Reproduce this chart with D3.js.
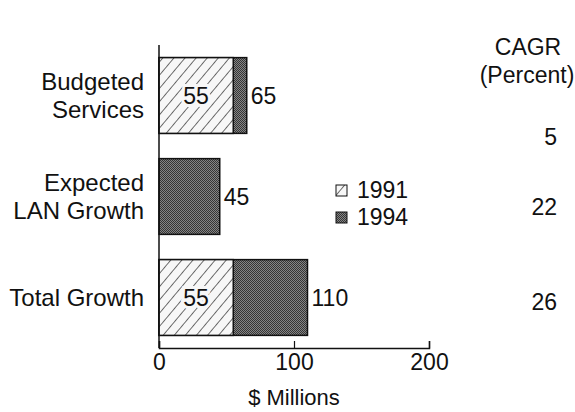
<!DOCTYPE html>
<html>
<head>
<meta charset="utf-8">
<script src="https://cdn.jsdelivr.net/npm/d3@7"></script>
<style>
  html, body { margin: 0; padding: 0; background: #fff; }
  svg { display: block; font-family: "Liberation Sans", Arial, Helvetica, sans-serif; }
</style>
</head>
<body>
<svg id="chart" width="575" height="412"></svg>
<script>
// Spending categories (label lines) and values in $ millions
const categories = ["Budgeted Services", "Expected LAN Growth", "Total Growth"];
const categoryLines = [["Budgeted", "Services"], ["Expected", "LAN Growth"], ["Total Growth"]];
const base1991 = [55, 0, 55];
const total1994 = [65, 45, 110];
const cagr = [5, 22, 26];
const xTicks = [0, 100, 200];
const legendYears = ["1991", "1994"];

const svg = d3.select("#chart");
const defs = svg.append("defs");

// Diagonal hatch for the 1991 share
const hatch = defs.append("pattern")
  .attr("id", "hatch").attr("patternUnits", "userSpaceOnUse")
  .attr("width", 8.5).attr("height", 8.5)
  .attr("patternTransform", "rotate(40)");
hatch.append("rect").attr("width", 8.5).attr("height", 8.5).attr("fill", "#f7f7f7");
hatch.append("line").attr("x1", 0).attr("y1", 0).attr("x2", 0).attr("y2", 8.5)
  .attr("stroke", "#222").attr("stroke-width", 1.3);

// Dark stipple for the 1994 growth
const stip = defs.append("pattern")
  .attr("id", "stipple").attr("patternUnits", "userSpaceOnUse")
  .attr("width", 2).attr("height", 2);
stip.append("rect").attr("width", 2).attr("height", 2).attr("fill", "#858585");
stip.append("rect").attr("width", 1).attr("height", 1).attr("fill", "#353535");
stip.append("rect").attr("x", 1).attr("y", 1).attr("width", 1).attr("height", 1).attr("fill", "#353535");

const x = d3.scaleLinear().domain([0, 200]).range([159, 429]);
const y = d3.scaleBand().domain(categories).range([45, 348])
  .paddingInner(0.25).paddingOuter(0.125);

const fs = 23;

// 1994 bars (full length), then 1991 hatched share on top
const g = svg.append("g");
g.selectAll("rect.y94").data(categories).join("rect")
  .attr("class", "y94")
  .attr("x", x(0)).attr("y", d => y(d))
  .attr("width", (d, i) => x(total1994[i]) - x(0))
  .attr("height", y.bandwidth())
  .attr("fill", "url(#stipple)").attr("stroke", "#111").attr("stroke-width", 1.5);

g.selectAll("rect.y91").data(categories.filter((d, i) => base1991[i] > 0)).join("rect")
  .attr("class", "y91")
  .attr("x", x(0)).attr("y", d => y(d))
  .attr("width", d => x(base1991[categories.indexOf(d)]) - x(0))
  .attr("height", y.bandwidth())
  .attr("fill", "url(#hatch)").attr("stroke", "#111").attr("stroke-width", 1.5);

// Labels inside the hatched share
g.selectAll("text.in").data(categories.filter((d, i) => base1991[i] > 0)).join("text")
  .attr("class", "in")
  .attr("x", d => x(base1991[categories.indexOf(d)] / 2))
  .attr("y", d => y(d) + y.bandwidth() / 2)
  .attr("dy", "0.35em").attr("text-anchor", "middle")
  .attr("font-size", fs).attr("fill", "#111")
  .style("paint-order", "stroke").attr("stroke", "#f7f7f7").attr("stroke-width", 6)
  .text(d => base1991[categories.indexOf(d)]);

// Total labels to the right of each bar
g.selectAll("text.tot").data(categories).join("text")
  .attr("class", "tot")
  .attr("x", (d, i) => x(total1994[i]) + 4)
  .attr("y", d => y(d) + y.bandwidth() / 2)
  .attr("dy", "0.35em").attr("font-size", fs).attr("fill", "#111")
  .text((d, i) => total1994[i]);

// Category labels
categories.forEach((c, i) => {
  const lines = categoryLines[i];
  const cy = y(c) + y.bandwidth() / 2;
  const t = svg.append("text").attr("text-anchor", "end").attr("font-size", 24).attr("fill", "#111");
  lines.forEach((ln, j) => {
    t.append("tspan").attr("x", 144)
      .attr("y", cy + (j - (lines.length - 1) / 2) * 28)
      .attr("dy", "0.35em").text(ln);
  });
});

// Vertical axis line
svg.append("line").attr("x1", x(0)).attr("x2", x(0))
  .attr("y1", 45).attr("y2", 348).attr("stroke", "#111").attr("stroke-width", 1.5);

// Horizontal axis with inward ticks
const xAxis = d3.axisBottom(x).tickValues(xTicks).tickSizeInner(-7).tickSizeOuter(-7).tickPadding(6);
const ax = svg.append("g").attr("transform", "translate(0,348)").call(xAxis);
ax.select(".domain").attr("stroke", "#111").attr("stroke-width", 1.5);
ax.selectAll(".tick line").attr("stroke", "#111").attr("stroke-width", 1.2);
ax.selectAll(".tick text").attr("font-size", fs).attr("fill", "#111")
  .attr("font-family", "Liberation Sans, Arial, sans-serif");

svg.append("text").attr("x", x(100)).attr("y", 397).attr("dy", "0.35em")
  .attr("text-anchor", "middle").attr("font-size", 22).attr("fill", "#111").text("$ Millions");

// Legend
const leg = svg.append("g");
legendYears.forEach((yr, i) => {
  const ly = 190 + i * 27;
  leg.append("rect").attr("x", 336).attr("y", ly - 5).attr("width", 11).attr("height", 11)
    .attr("fill", i === 0 ? "url(#hatch)" : "url(#stipple)")
    .attr("stroke", "#111").attr("stroke-width", 1);
  leg.append("text").attr("x", 357).attr("y", ly).attr("dy", "0.35em")
    .attr("font-size", fs).attr("fill", "#111").text(yr);
});

// CAGR column
svg.append("text").attr("x", 528).attr("y", 47).attr("dy", "0.35em")
  .attr("text-anchor", "middle").attr("font-size", fs).attr("fill", "#111").text("CAGR");
svg.append("text").attr("x", 527).attr("y", 75).attr("dy", "0.35em")
  .attr("text-anchor", "middle").attr("font-size", fs).attr("fill", "#111").text("(Percent)");
svg.selectAll("text.cagr").data(categories).join("text")
  .attr("class", "cagr")
  .attr("x", 557)
  .attr("y", (d, i) => [137, 207, 302][i])
  .attr("dy", "0.35em").attr("text-anchor", "end")
  .attr("font-size", fs).attr("fill", "#111")
  .text((d, i) => cagr[i]);
</script>
</body>
</html>
